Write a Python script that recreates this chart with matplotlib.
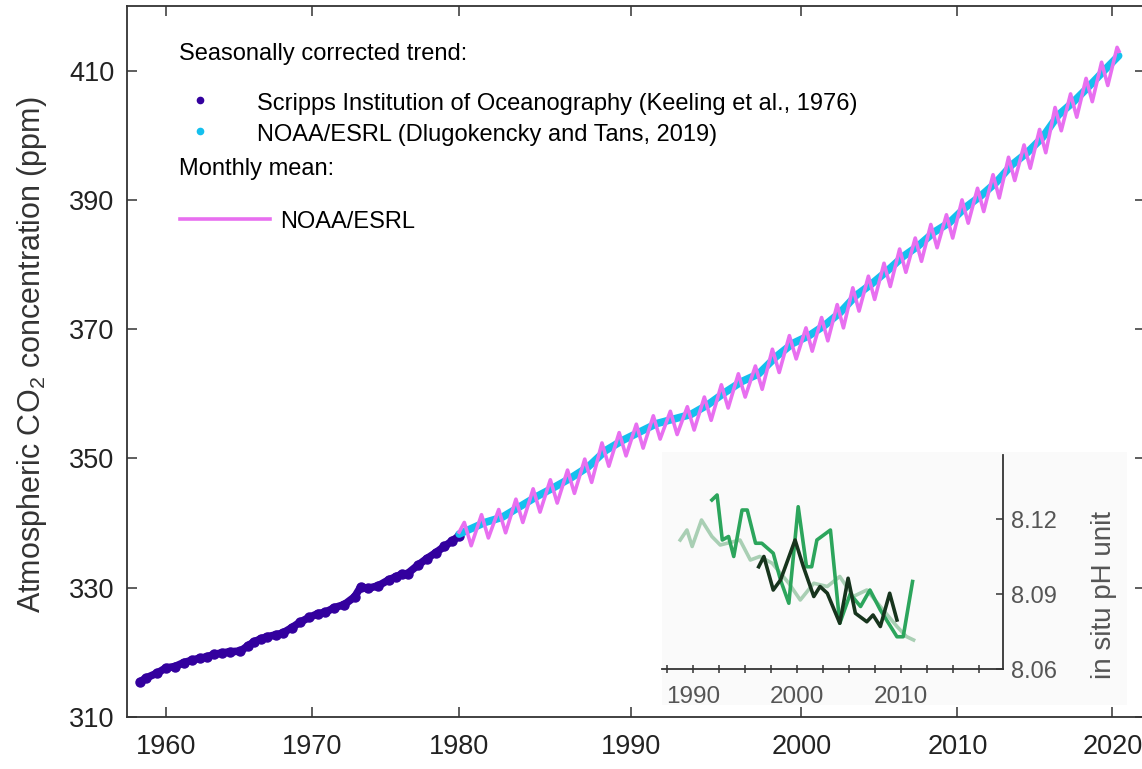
import numpy as np
import matplotlib
matplotlib.use("Agg")
import matplotlib.pyplot as plt
from matplotlib.patches import Rectangle

plt.rcParams["font.family"] = ["Liberation Sans", "DejaVu Sans"]
plt.rcParams["mathtext.fontset"] = "custom"
plt.rcParams["mathtext.rm"] = "Liberation Sans"
plt.rcParams["mathtext.it"] = "Liberation Sans"

# Scripps (Keeling) seasonally corrected record, 1958-1980
scripps_year = [1958.2, 1958.6, 1959.4, 1960.0, 1960.6, 1961.2, 1961.8, 1962.3, 1962.8, 1963.3,
                1963.8, 1964.4, 1965.1, 1965.6, 1966.0, 1966.5, 1966.9, 1967.5, 1968.0, 1968.6,
                1969.2, 1969.8, 1970.4, 1970.9, 1971.5, 1972.2, 1972.9, 1973.3, 1973.8, 1974.5,
                1975.2, 1975.7, 1976.1, 1976.5, 1977.2, 1977.8, 1978.4, 1979.0, 1979.5, 1980.0]
scripps_ppm = [315.4, 316.0, 316.8, 317.6, 317.8, 318.4, 318.8, 319.1, 319.3, 319.7,
               319.9, 320.1, 320.2, 321.0, 321.6, 322.1, 322.4, 322.7, 323.0, 323.8,
               324.7, 325.4, 326.0, 326.2, 326.9, 327.4, 328.6, 330.1, 329.9, 330.3,
               331.2, 331.7, 332.1, 332.2, 333.5, 334.5, 335.4, 336.4, 337.2, 338.0]

# NOAA/ESRL global trend (annual, mid-year) 1980-2020
noaa_year = [1980.0] + [y + 0.5 for y in range(1980, 2020)] + [2020.4]
noaa_ppm = [338.3,
            338.9, 340.1, 340.9, 342.5, 344.1, 345.5, 347.0, 348.7, 351.2, 352.8,
            354.1, 355.4, 356.1, 356.8, 358.3, 360.2, 361.9, 363.1, 365.7, 367.8,
            369.0, 370.6, 372.6, 375.2, 377.0, 379.0, 381.2, 382.9, 385.0, 386.5,
            388.8, 390.6, 392.7, 395.4, 397.3, 399.7, 403.1, 405.2, 407.6, 410.1,
            412.3]

# NOAA/ESRL monthly mean: yearly maxima (spring) and minima (late summer)
cycle_years = list(range(1980, 2020))
peak_ppm = [340.1, 341.3, 342.1, 343.7, 345.3, 346.7, 348.2, 349.9, 352.4, 354.0,
            355.3, 356.6, 357.3, 358.0, 359.5, 361.4, 363.1, 364.3, 366.9, 369.0,
            370.2, 371.8, 373.8, 376.4, 378.2, 380.2, 382.4, 384.1, 386.2, 387.7,
            390.0, 391.8, 393.9, 396.6, 398.5, 400.9, 404.3, 406.4, 408.8, 411.3]
trough_ppm = [336.5, 337.7, 338.5, 340.1, 341.7, 343.1, 344.6, 346.3, 348.8, 350.4,
              351.6, 353.0, 353.7, 354.4, 355.9, 357.8, 359.5, 360.7, 363.3, 365.4,
              366.6, 368.2, 370.2, 372.8, 374.6, 376.6, 378.8, 380.5, 382.6, 384.1,
              386.4, 388.2, 390.3, 393.0, 394.9, 397.3, 400.7, 402.8, 405.2, 407.7]
monthly_start = (1980.0, 338.6)
monthly_end = [(2020.3, 413.6), (2020.42, 413.0)]

# ocean pH time series (inset)
ph_a_year = [1988.75, 1989.4, 1989.9, 1990.8, 1991.8, 1992.6, 1994.5, 1995.5, 1996.4, 1997.6,
             1999.2, 2000.3, 2001.6, 2002.9, 2004.1, 2005.4, 2006.7, 2008.0, 2009.6, 2010.5, 2011.2]
ph_a = [8.1116, 8.1156, 8.1090, 8.1196, 8.1130, 8.1096, 8.1116, 8.1036, 8.1050, 8.1023,
        8.0943, 8.0876, 8.0943, 8.0930, 8.0970, 8.0890, 8.0916, 8.0850, 8.0770, 8.0730, 8.0716]
ph_b_year = [1991.8, 1992.3, 1992.8, 1993.4, 1993.9, 1994.7, 1995.2, 1996.0, 1996.6, 1997.7,
             1998.4, 1999.2, 2000.1, 2000.9, 2001.4, 2001.9, 2003.2, 2004.1, 2005.1, 2006.1,
             2007.0, 2008.0, 2009.6, 2010.2, 2011.1]
ph_b = [8.1276, 8.1296, 8.1116, 8.1130, 8.1050, 8.1236, 8.1236, 8.1103, 8.1103, 8.1063,
        8.0956, 8.0863, 8.1249, 8.1009, 8.1009, 8.1116, 8.1156, 8.0783, 8.0900, 8.0850,
        8.0916, 8.0836, 8.0729, 8.0729, 8.0950]
ph_c_year = [1996.3, 1996.8, 1997.7, 1998.4, 1999.8, 2000.6, 2001.6, 2002.2, 2002.9, 2004.1,
             2004.9, 2005.6, 2006.7, 2007.3, 2008.0, 2008.9, 2009.6]
ph_c = [8.1009, 8.1050, 8.0916, 8.0956, 8.1116, 8.1009, 8.0890, 8.0930, 8.0903, 8.0783,
        8.0963, 8.0823, 8.0789, 8.0816, 8.0770, 8.0903, 8.0796]

C_SCRIPPS = "#33009e"
C_NOAA = "#14c0ee"
C_MONTHLY = "#e86ff0"
INK = "#222222"

W, H = 1142, 769
fig = plt.figure(figsize=(W / 100, H / 100), dpi=100)


def fx(px):
    return px / W


def fy(py):
    return 1 - py / H


ax = fig.add_axes([fx(127), fy(717), fx(1145 - 127), (717 - 6) / H])

# piecewise-linear time axis: the decades are not equally wide
knot_year = [1940, 1960, 1970, 1980, 1990, 2000, 2010, 2020, 2040]
knot_pos = [-126, 166, 312, 459, 631, 801, 957, 1112, 1422]
ax.set_xscale("function", functions=(lambda x: np.interp(x, knot_year, knot_pos),
                                     lambda p: np.interp(p, knot_pos, knot_year)))

# monthly mean line: start, spring maximum, late-summer minimum of each year
m_year = [monthly_start[0]]
m_ppm = [monthly_start[1]]
for y, p, t in zip(cycle_years, peak_ppm, trough_ppm):
    m_year += [y + 0.3, y + 0.7]
    m_ppm += [p, t]
for y, v in monthly_end:
    m_year.append(y)
    m_ppm.append(v)

ax.plot(scripps_year, scripps_ppm, color=C_SCRIPPS, lw=5.5, marker="o", ms=6.5,
        solid_capstyle="round", solid_joinstyle="round", zorder=3)
ax.plot(noaa_year, noaa_ppm, color=C_NOAA, lw=5.5, solid_capstyle="round", zorder=3)
ax.plot(m_year, m_ppm, color=C_MONTHLY, lw=2.6, solid_joinstyle="round", zorder=4)

ax.set_xlim(1957.33, 2022.1)
ax.set_ylim(310, 420)
ax.set_xticks([1960, 1970, 1980, 1990, 2000, 2010, 2020])
ax.set_yticks([310, 330, 350, 370, 390, 410])
ax.minorticks_off()
ax.tick_params(direction="in", top=True, right=True, length=7.5, width=1.1,
               color="#333333", labelsize=19.5, labelcolor=INK)
ax.tick_params(axis="x", pad=12)
ax.tick_params(axis="y", pad=9)
for s in ax.spines.values():
    s.set_linewidth(1.3)
    s.set_color("#333333")

fig.text(fx(32), fy(355), "Atmospheric CO$_2$ concentration (ppm)", rotation=90,
         ha="center", va="center", fontsize=22, color="#333333")

# legend block
fig.text(fx(179), fy(60), "Seasonally corrected trend:", fontsize=17, va="baseline")
fig.text(fx(257), fy(110), "Scripps Institution of Oceanography (Keeling et al., 1976)",
         fontsize=17, va="baseline")
fig.text(fx(257), fy(141.5), "NOAA/ESRL (Dlugokencky and Tans, 2019)", fontsize=17,
         va="baseline")
fig.text(fx(179), fy(175), "Monthly mean:", fontsize=17, va="baseline")
fig.text(fx(280), fy(228), "NOAA/ESRL", fontsize=17, va="baseline")
fig.add_artist(plt.Line2D([fx(200)], [fy(99.5)], marker="o", ms=4.5, color=C_SCRIPPS, lw=0))
fig.add_artist(plt.Line2D([fx(200)], [fy(131)], marker="o", ms=4.5, color=C_NOAA, lw=0))
fig.add_artist(plt.Line2D([fx(180), fx(270)], [fy(219), fy(219)], color=C_MONTHLY, lw=2.6))

# inset: surface ocean pH
fig.add_artist(Rectangle((fx(662), fy(705)), fx(1127 - 662), (705 - 452) / H,
                         transform=fig.transFigure, facecolor="#fafafa",
                         edgecolor="none", zorder=1))
axi = fig.add_axes([fx(662), fy(669), fx(1003 - 662), (669 - 455) / H], zorder=2)
axi.patch.set_alpha(0)
axi.plot(ph_a_year, ph_a, color="#a9cfb4", lw=2.6)
axi.plot(ph_b_year, ph_b, color="#2ca55c", lw=2.6)
axi.plot(ph_c_year, ph_c, color="#17341d", lw=2.6)
axi.set_xlim(1987.0, 2019.8)
axi.set_ylim(8.06, 8.1456)
axi.spines["left"].set_visible(False)
axi.spines["top"].set_visible(False)
for s in ("bottom", "right"):
    axi.spines[s].set_linewidth(1.3)
    axi.spines[s].set_color("#333333")
axi.yaxis.tick_right()
axi.set_yticks([8.06, 8.09, 8.12])
axi.set_yticklabels(["8.06", "8.09", "8.12"])
axi.set_xticks([1990, 2000, 2010])
axi.set_xticks(np.arange(1987.5, 2019, 2.5), minor=True)
axi.tick_params(axis="x", which="both", direction="inout", length=6, width=1.1,
                color="#333333", labelsize=17.5, labelcolor="#555555", pad=9)
axi.tick_params(axis="y", direction="in", length=5, width=1.1, color="#333333",
                labelsize=17, labelcolor="#555555", pad=6)
fig.text(fx(1104), fy(595), "in situ pH unit", rotation=90, ha="center", va="center",
         fontsize=20, color="#555555")

fig.savefig("out.png", dpi=100)
